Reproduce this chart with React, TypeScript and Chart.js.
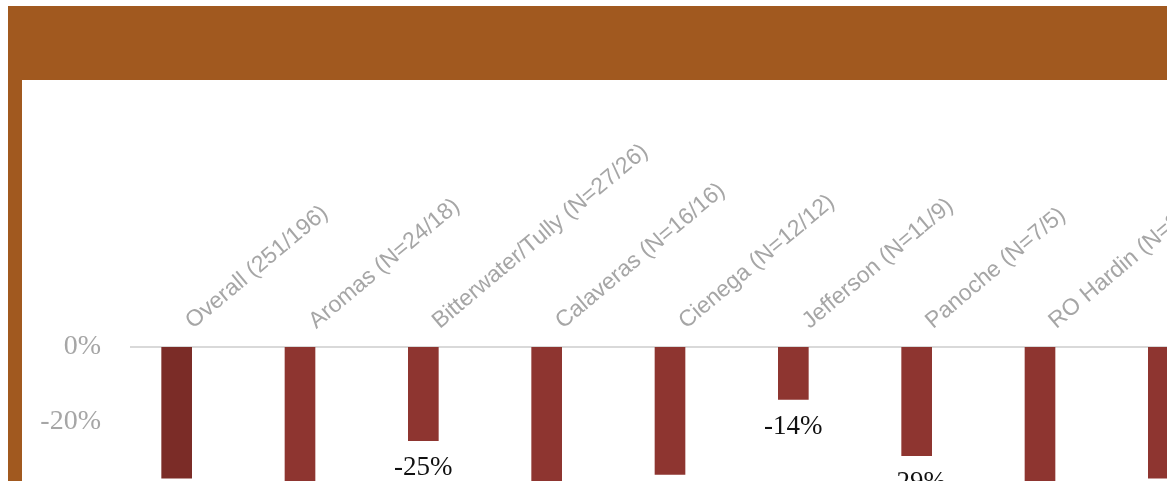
import React, { useEffect, useRef } from "react";
import { Chart, registerables } from "chart.js";

Chart.register(...registerables);

const categories = [
  "Overall (251/196)",
  "Aromas (N=24/18)",
  "Bitterwater/Tully (N=27/26)",
  "Calaveras (N=16/16)",
  "Cienega (N=12/12)",
  "Jefferson (N=11/9)",
  "Panoche (N=7/5)",
  "RO Hardin (N=38/31)",
  "Southside (N=9/8)",
];
const changeValues = [-35, -37, -25, -39, -34, -14, -29, -38, -35];
const barColors = ["#7B2C27", "#8E3530", "#8E3530", "#8E3530", "#8E3530", "#8E3530", "#8E3530", "#8E3530", "#8E3530"];
const yTicks = { min: -80, max: 0, step: 20 };

const valueLabels = {
  id: "valueLabels",
  afterDatasetsDraw(chart: any) {
    const ctx = chart.ctx;
    const meta = chart.getDatasetMeta(0);
    ctx.save();
    ctx.font = "27px 'Liberation Serif', 'Times New Roman', serif";
    ctx.fillStyle = "#111111";
    ctx.textAlign = "center";
    ctx.textBaseline = "top";
    meta.data.forEach((bar: any, i: number) => {
      const v = chart.data.datasets[0].data[i];
      ctx.fillText(`${v}%`, bar.x, bar.y + 14);
    });
    ctx.restore();
  },
};

const zeroLine = {
  id: "zeroLine",
  beforeDatasetsDraw(chart: any) {
    const ctx = chart.ctx;
    const y = chart.scales.y.getPixelForValue(0);
    ctx.save();
    ctx.strokeStyle = "#D9D9D9";
    ctx.lineWidth = 2;
    ctx.beginPath();
    ctx.moveTo(chart.chartArea.left + 15, y);
    ctx.lineTo(chart.chartArea.right, y);
    ctx.stroke();
    ctx.restore();
  },
};

export default function App() {
  const ref = useRef<HTMLCanvasElement | null>(null);
  useEffect(() => {
    if (!ref.current) return;
    const chart = new Chart(ref.current, {
      type: "bar",
      data: {
        labels: categories,
        datasets: [
          {
            data: changeValues,
            backgroundColor: barColors,
            barThickness: 30,
          },
        ],
      },
      options: {
        animation: false,
        responsive: false,
        layout: { padding: 0 },
        plugins: { legend: { display: false }, tooltip: { enabled: false } },
        scales: {
          x: {
            position: "top",
            grid: { display: false, drawTicks: false },
            border: { display: false },
            ticks: {
              autoSkip: false,
              minRotation: 40,
              maxRotation: 40,
              padding: 12,
              labelOffset: 30,
              color: "#A6A6A6",
              font: { family: "'Liberation Sans', Arial, sans-serif", size: 23 },
            },
            afterFit(scale: any) {
              scale.height = 267;
              scale.paddingLeft = 0;
              scale.paddingRight = 0;
            },
          },
          y: {
            min: yTicks.min,
            max: yTicks.max,
            grid: { display: false, drawTicks: false },
            border: { display: false },
            ticks: {
              stepSize: yTicks.step,
              padding: 14,
              color: "#A6A6A6",
              font: { family: "'Liberation Serif', 'Times New Roman', serif", size: 28 },
              callback: (v: any) => `${v}%`,
            },
            afterFit(scale: any) {
              scale.width = 93;
              scale.paddingTop = 0;
              scale.paddingBottom = 0;
            },
          },
        },
      },
      plugins: [zeroLine, valueLabels],
    });
    return () => chart.destroy();
  }, []);

  return (
    <div
      style={{
        position: "absolute",
        left: 8,
        top: 6,
        width: 1159,
        height: 475,
        overflow: "hidden",
        background: "#FFFFFF",
      }}
    >
      <div style={{ position: "absolute", left: 0, top: 0, width: 1159, height: 74, background: "#A1591F" }} />
      <div style={{ position: "absolute", left: 0, top: 0, width: 14, height: 475, background: "#A1591F" }} />
      <canvas ref={ref} width={1203} height={567} style={{ position: "absolute", left: 14, top: 74 }} />
    </div>
  );
}
